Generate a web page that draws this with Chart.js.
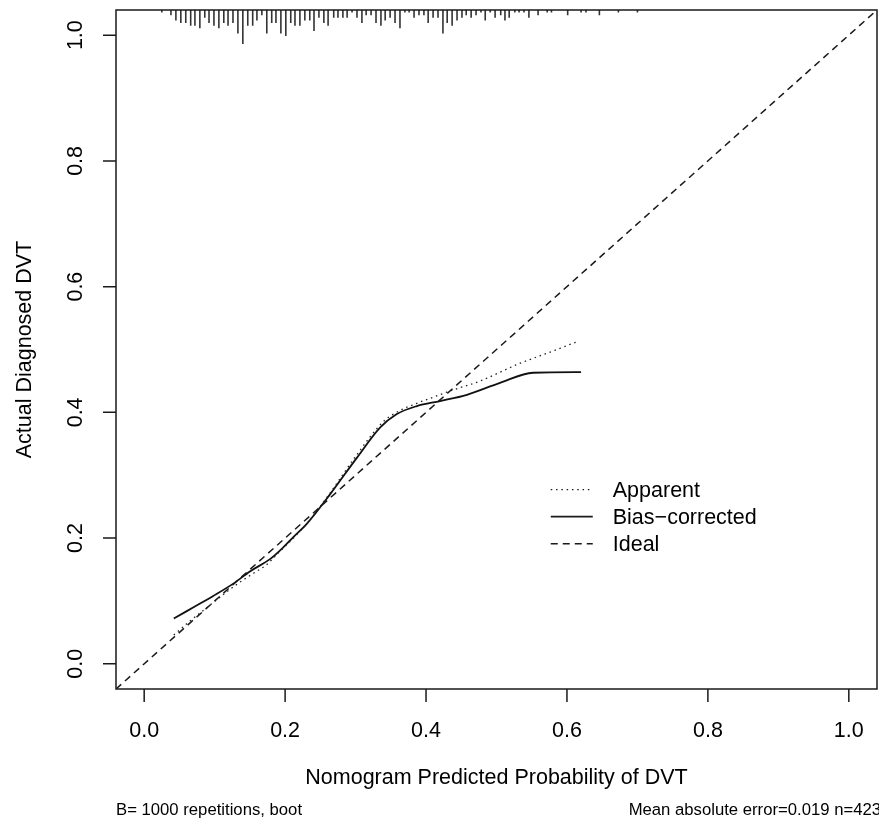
<!DOCTYPE html>
<html>
<head>
<meta charset="utf-8">
<title>Calibration curve</title>
<script src="https://cdn.jsdelivr.net/npm/chart.js@4.4.1/dist/chart.umd.min.js"></script>
<style>
  html, body { margin: 0; padding: 0; background: #fff; }
  canvas { display: block; }
</style>
</head>
<body>
<canvas id="calib" width="879" height="825"></canvas>
<script>
// axis ticks and range (R style: data range 0..1 stretched by 4% each side)
const xTicks = [0, 0.2, 0.4, 0.6, 0.8, 1.0];
const yTicks = [0, 0.2, 0.4, 0.6, 0.8, 1.0];
const axisMin = -0.04;
const axisMax = 1.04;

// apparent calibration (dotted)
const apparentX = [0.042, 0.065, 0.094, 0.120, 0.136, 0.155, 0.174, 0.190, 0.210, 0.230, 0.264, 0.300, 0.340, 0.363, 0.386, 0.410, 0.434, 0.477, 0.529, 0.581, 0.616];
const apparentY = [0.046, 0.068, 0.094, 0.117, 0.130, 0.144, 0.158, 0.176, 0.198, 0.222, 0.272, 0.330, 0.386, 0.403, 0.414, 0.424, 0.434, 0.450, 0.476, 0.498, 0.513];

// bias-corrected calibration (solid)
const biasX = [0.042, 0.070, 0.098, 0.127, 0.150, 0.179, 0.198, 0.212, 0.231, 0.264, 0.302, 0.335, 0.358, 0.387, 0.420, 0.458, 0.505, 0.552, 0.620];
const biasY = [0.072, 0.090, 0.108, 0.128, 0.147, 0.167, 0.186, 0.202, 0.223, 0.270, 0.328, 0.376, 0.397, 0.410, 0.418, 0.428, 0.447, 0.463, 0.464];

// ideal line y = x across the plot region
const idealX = [axisMin, axisMax];

// spike histogram of predicted probabilities along the top
const rugX = [0.025, 0.038, 0.045, 0.052, 0.059, 0.066, 0.072, 0.079, 0.086, 0.092, 0.099, 0.106, 0.113, 0.119, 0.126, 0.133, 0.140, 0.147, 0.154, 0.160,
              0.167, 0.174, 0.181, 0.187, 0.194, 0.201, 0.208, 0.214, 0.221, 0.228, 0.235, 0.241, 0.248, 0.255, 0.261, 0.269, 0.275, 0.282, 0.288, 0.295,
              0.302, 0.309, 0.315, 0.322, 0.329, 0.336, 0.342, 0.349, 0.356, 0.363, 0.370, 0.376, 0.383, 0.390, 0.397, 0.403, 0.410, 0.417, 0.424, 0.430,
              0.437, 0.444, 0.451, 0.457, 0.464, 0.471, 0.478, 0.484, 0.491, 0.498, 0.506, 0.512, 0.518, 0.526, 0.532, 0.539, 0.546, 0.559, 0.572, 0.578,
              0.601, 0.620, 0.627, 0.646, 0.673, 0.700];
const rugCount = [1, 2, 4, 5, 5, 6, 6, 7, 3, 5, 6, 7, 5, 6, 5, 9, 13, 6, 6, 4,
                  2, 9, 5, 5, 9, 10, 5, 6, 6, 4, 4, 8, 3, 5, 6, 3, 3, 3, 3, 1,
                  3, 5, 2, 2, 5, 6, 4, 3, 5, 7, 1, 1, 3, 2, 2, 5, 3, 3, 9, 5,
                  6, 4, 3, 2, 3, 2, 1, 4, 1, 3, 2, 4, 3, 1, 1, 1, 3, 2, 1, 1,
                  2, 1, 1, 2, 1, 1];

const legendLabels = ['Apparent', 'Bias\u2212corrected', 'Ideal'];
const xTitle = 'Nomogram Predicted Probability of DVT';
const yTitle = 'Actual Diagnosed DVT';
const subLeft = 'B= 1000 repetitions, boot';
const subRight = 'Mean absolute error=0.019 n=423';

const INK = '#1a1a1a';
const FONT = '"Liberation Sans", Arial, Helvetica, sans-serif';
const dotted = [1.5, 3.8];
const dashed = [7, 5];

function pairs(xs, ys) {
    return xs.map((x, i) => ({ x: x, y: ys[i] }));
}

// each spike hangs down from the top edge; tallest spike is 5% of the axis span
function rugPoints() {
    const maxLen = 0.05 * (axisMax - axisMin);
    const unit = maxLen / Math.max(...rugCount);
    let pts = [];
    rugX.forEach((x, i) => {
        pts.push({ x: x, y: axisMax });
        pts.push({ x: x, y: axisMax - rugCount[i] * unit });
        pts.push({ x: x, y: null });
    });
    return pts;
}

const frame = {
    id: 'frame',
    afterDatasetsDraw(chart) {
        const ctx = chart.ctx;
        const area = chart.chartArea;
        const xs = chart.scales.x;
        const ys = chart.scales.y;
        ctx.save();

        // box
        ctx.strokeStyle = INK;
        ctx.lineWidth = 1.5;
        ctx.setLineDash([]);
        ctx.strokeRect(area.left, area.top, area.right - area.left, area.bottom - area.top);

        // tick marks
        ctx.beginPath();
        xTicks.forEach(v => {
            const px = xs.getPixelForValue(v);
            ctx.moveTo(px, area.bottom);
            ctx.lineTo(px, area.bottom + 13);
        });
        yTicks.forEach(v => {
            const py = ys.getPixelForValue(v);
            ctx.moveTo(area.left, py);
            ctx.lineTo(area.left - 13, py);
        });
        ctx.stroke();

        // tick labels
        ctx.fillStyle = '#000';
        ctx.font = '21.5px ' + FONT;
        ctx.textAlign = 'center';
        ctx.textBaseline = 'middle';
        xTicks.forEach(v => {
            ctx.fillText(v.toFixed(1), xs.getPixelForValue(v), area.bottom + 42);
        });
        yTicks.forEach(v => {
            ctx.save();
            ctx.translate(area.left - 40, ys.getPixelForValue(v));
            ctx.rotate(-Math.PI / 2);
            ctx.fillText(v.toFixed(1), 0, 0);
            ctx.restore();
        });

        // axis titles
        ctx.fillText(xTitle, (area.left + area.right) / 2, area.bottom + 89);
        ctx.save();
        ctx.translate(25, (area.top + area.bottom) / 2);
        ctx.rotate(-Math.PI / 2);
        ctx.fillText(yTitle, 0, 0);
        ctx.restore();

        // subtitles under the x axis
        ctx.font = '16.7px ' + FONT;
        ctx.textAlign = 'left';
        ctx.fillText(subLeft, area.left, area.bottom + 121);
        ctx.textAlign = 'right';
        ctx.fillText(subRight, chart.width + 2, area.bottom + 121);

        // legend
        const lx = xs.getPixelForValue(0.577);
        const ly = ys.getPixelForValue(0.277);
        const styles = [
            { dash: dotted, width: 1.3 },
            { dash: [], width: 1.8 },
            { dash: dashed, width: 1.5 }
        ];
        ctx.font = '21.5px ' + FONT;
        ctx.textAlign = 'left';
        legendLabels.forEach((t, i) => {
            const y = ly + i * 27;
            ctx.beginPath();
            ctx.setLineDash(styles[i].dash);
            ctx.lineWidth = styles[i].width;
            ctx.moveTo(lx, y);
            ctx.lineTo(lx + 42, y);
            ctx.stroke();
            ctx.fillText(t, lx + 62, y + 1);
        });
        ctx.restore();
    }
};

new Chart(document.getElementById('calib'), {
    type: 'scatter',
    data: {
        datasets: [
            {
                label: 'rug',
                data: rugPoints(),
                showLine: true,
                spanGaps: false,
                borderColor: '#333',
                borderWidth: 1.6,
                pointRadius: 0,
                tension: 0
            },
            {
                label: legendLabels[2],
                data: pairs(idealX, idealX),
                showLine: true,
                borderColor: INK,
                borderWidth: 1.5,
                borderDash: dashed,
                pointRadius: 0
            },
            {
                label: legendLabels[0],
                data: pairs(apparentX, apparentY),
                showLine: true,
                borderColor: '#222',
                borderWidth: 1.3,
                borderDash: dotted,
                pointRadius: 0,
                cubicInterpolationMode: 'monotone'
            },
            {
                label: legendLabels[1],
                data: pairs(biasX, biasY),
                showLine: true,
                borderColor: '#111',
                borderWidth: 1.8,
                pointRadius: 0,
                cubicInterpolationMode: 'monotone'
            }
        ]
    },
    options: {
        responsive: false,
        animation: false,
        devicePixelRatio: 1,
        layout: {
            padding: { left: 116, right: 2, top: 10, bottom: 136 }
        },
        plugins: {
            legend: { display: false },
            tooltip: { enabled: false }
        },
        scales: {
            x: { type: 'linear', min: axisMin, max: axisMax, display: false },
            y: { type: 'linear', min: axisMin, max: axisMax, display: false }
        }
    },
    plugins: [frame]
});
</script>
</body>
</html>
